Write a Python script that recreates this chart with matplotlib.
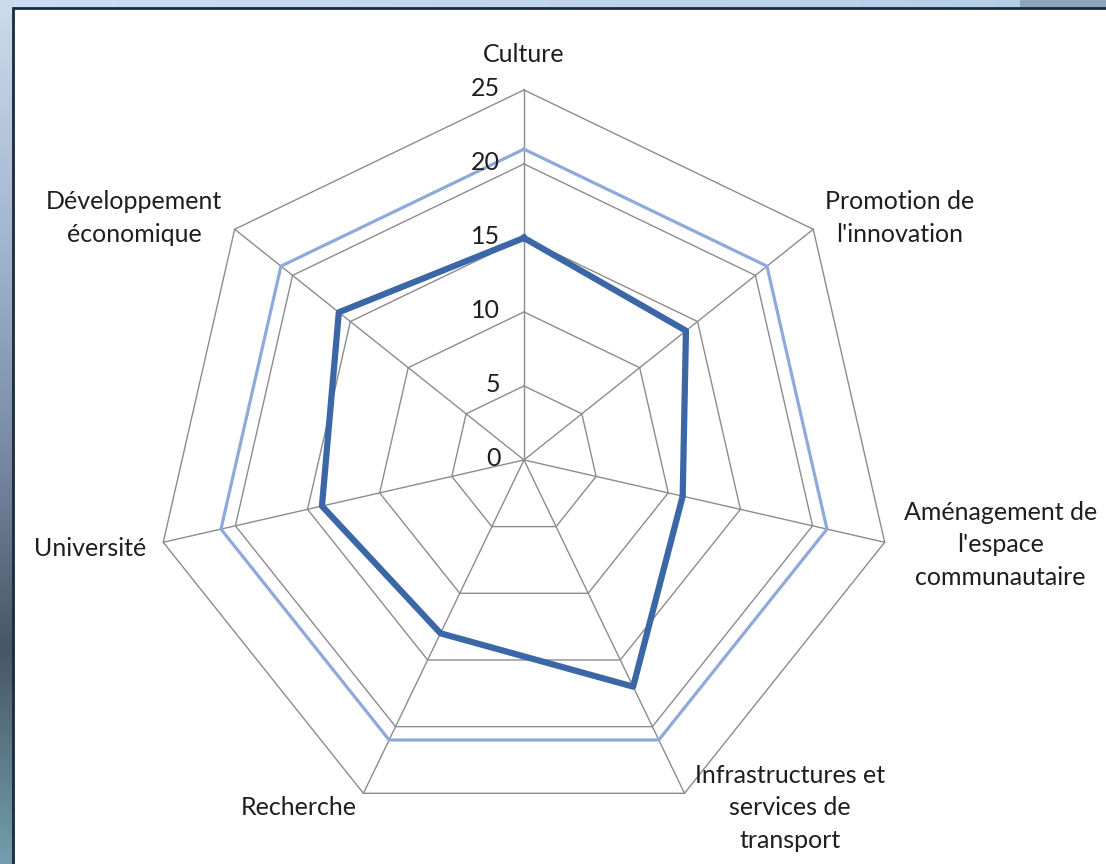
import numpy as np
import matplotlib.pyplot as plt
from matplotlib.patches import Rectangle

categories = ["Culture", "Promotion de\nl'innovation", "Aménagement de\nl'espace\ncommunautaire",
              "Infrastructures et\nservices de\ntransport", "Recherche", "Université",
              "Développement\néconomique"]
cible = [21, 21, 21, 21, 21, 21, 21]
actuel = [15, 14, 11, 17, 13, 14, 16]
ticks = [0, 5, 10, 15, 20, 25]

plt.rcParams['font.family'] = ['Lato', 'DejaVu Sans']

fig = plt.figure(figsize=(11.06, 8.64), dpi=100)

# fond bleuté (bord de la capture d'écran)
bg = fig.add_axes([0, 0, 1, 1])
h, w = 864, 1106
img = np.ones((h, w, 3))
tx = np.linspace(0, 1, w)[:, None]
top_col = (1 - tx) * np.array([0.80, 0.87, 0.95]) + tx * np.array([0.70, 0.80, 0.90])
img[:, :, :] = top_col[None, :, :]
img[:, 1020:, :] = [0.55, 0.65, 0.72]
ys = np.array([0, 0.3, 0.55, 0.75, 1.0]) * h
cols = np.array([[0.80, 0.86, 0.93], [0.62, 0.70, 0.80], [0.45, 0.52, 0.62],
                 [0.28, 0.34, 0.40], [0.45, 0.62, 0.68]])
yy = np.arange(h)
left_col = np.stack([np.interp(yy, ys, cols[:, k]) for k in range(3)], axis=1)
img[:, :14, :] = left_col[:, None, :]
bg.imshow(img, aspect='auto', extent=[0, 1, 0, 1])
bg.set_xlim(0, 1)
bg.set_ylim(0, 1)
bg.axis('off')
bg.add_patch(Rectangle((13 / 1106, -0.01), 1.0, (864 - 8) / 864 + 0.01,
                       facecolor='white', edgecolor='#1b2a40', linewidth=2))

ax = fig.add_axes([0.1392, 0.0394, 0.6691, 0.8565], projection='polar')
ax.set_theta_zero_location('N')
ax.set_theta_direction(-1)
ax.set_ylim(0, 25)
ax.grid(False)
ax.spines['polar'].set_visible(False)
ax.set_xticks([])
ax.set_yticks([])
ax.patch.set_alpha(0)

n = len(categories)
angles = np.linspace(0, 2 * np.pi, n, endpoint=False)
closed = np.append(angles, angles[0])

for t in ticks[1:]:
    ax.plot(closed, [t] * (n + 1), color='#8c8c8c', lw=1, clip_on=False)
for a in angles:
    ax.plot([a, a], [0, 25], color='#8c8c8c', lw=1, clip_on=False)

ax.plot(closed, cible + cible[:1], color='#8eaadb', lw=2.3, clip_on=False)
ax.plot(closed, actuel + actuel[:1], color='#3b67a7', lw=4.5, clip_on=False)

for t in ticks:
    ax.annotate(str(t), xy=(0, t), xytext=(-17, 1), textcoords='offset points',
                ha='right', va='center', fontsize=18, color='#1e1e1e')

label_pos = [(0, 27.4), (57.2, 30.2), (100.1, 32.7), (142.6, 29.6),
             (213, 28), (258.5, 29.9), (301.8, 31)]
for lab, (th, r) in zip(categories, label_pos):
    ax.text(np.deg2rad(th), r, lab, ha='center', va='center', fontsize=18,
            color='#1e1e1e', linespacing=1.5, clip_on=False)

fig.savefig('out.png', dpi=100)
